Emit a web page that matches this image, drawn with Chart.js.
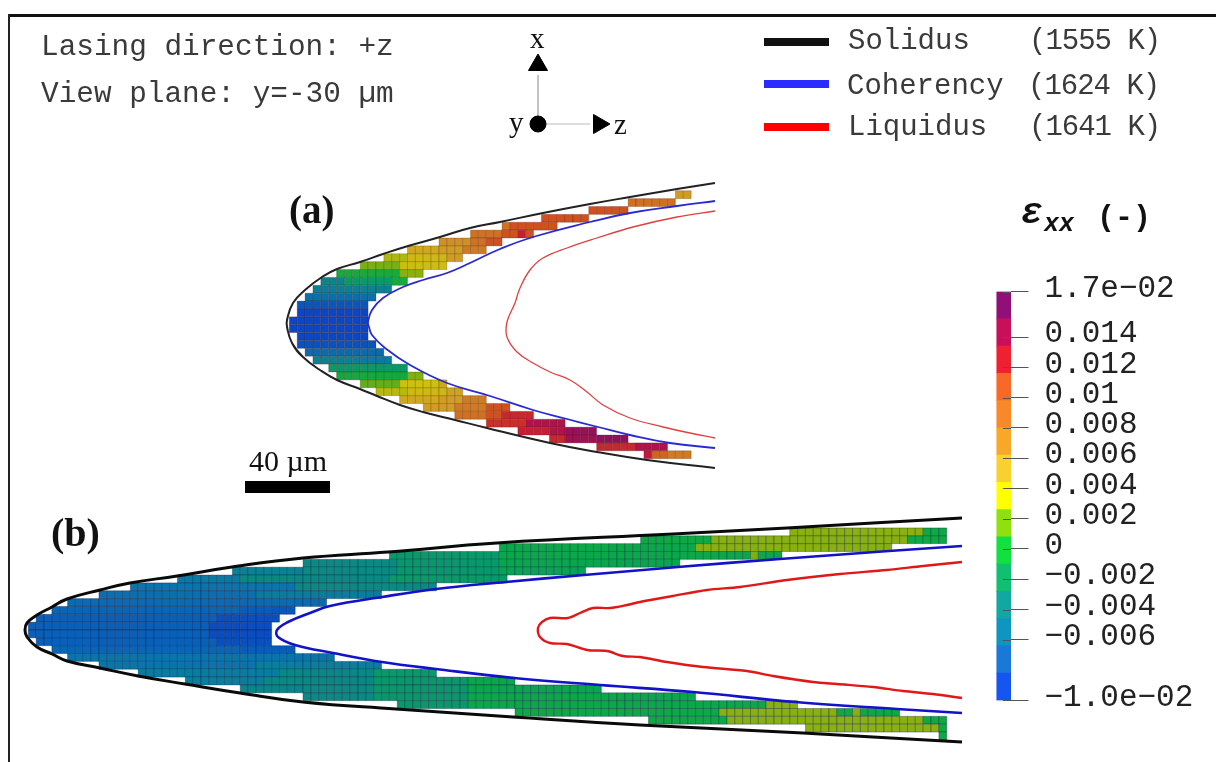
<!DOCTYPE html>
<html>
<head>
<meta charset="utf-8">
<title>Strain in the melt pool</title>
<script src="https://cdn.jsdelivr.net/npm/chart.js@4"></script>
<style>
    body { margin: 0; background: #fff; width: 1216px; height: 762px; overflow: hidden; position: relative; }
    canvas { position: absolute; }
    .t { position: absolute; white-space: pre; font: 29px/34px "Liberation Mono", monospace; color: #3a3a3a; }
    .s { position: absolute; white-space: pre; font: 29px/34px "Liberation Serif", serif; color: #111; }
    .box { position: absolute; }
</style>
</head>
<body>
<canvas id="poolChart" width="1216" height="762" style="left:0;top:0"></canvas>
<canvas id="barChart" width="226" height="480" style="left:990px;top:261px"></canvas>

<div class="box" style="left:8px;top:14px;width:1208px;height:3px;background:#111"></div>
<div class="box" style="left:8px;top:14px;width:2px;height:748px;background:#222"></div>

<div class="t" style="left:41px;top:31px;font-size:29.4px">Lasing direction: +z</div>
<div class="t" style="left:41px;top:78px;font-size:29.4px">View plane: y=-30 µm</div>

<div class="s" style="left:530px;top:21px">x</div>
<div class="s" style="left:509px;top:105px">y</div>
<div class="s" style="left:614px;top:107px">z</div>

<div class="box" style="left:764px;top:38px;width:65px;height:8px;background:#111"></div>
<div class="box" style="left:764px;top:80px;width:65px;height:8px;background:#2b2bff"></div>
<div class="box" style="left:764px;top:123px;width:65px;height:8px;background:#f00"></div>
<div class="t" style="left:848px;top:25px">Solidus</div>
<div class="t" style="left:847px;top:70px">Coherency</div>
<div class="t" style="left:848px;top:111px">Liquidus</div>
<div class="t" style="left:1029px;top:25px;letter-spacing:-1px">(1555 K)</div>
<div class="t" style="left:1028px;top:70px;letter-spacing:-1px">(1624 K)</div>
<div class="t" style="left:1029px;top:111px;letter-spacing:-1px">(1641 K)</div>

<div class="s" style="left:289px;top:187px;font-size:39px;line-height:46px;font-weight:bold">(a)</div>
<div class="s" style="left:51px;top:510px;font-size:40px;line-height:46px;font-weight:bold">(b)</div>
<div class="s" style="left:249px;top:444px;font-size:30px">40 µm</div>
<div class="box" style="left:245px;top:481px;width:85px;height:12px;background:#000"></div>

<div class="t" style="left:1021px;top:197px;font-size:36px;font-weight:bold;font-style:italic;color:#111">ε</div>
<div class="t" style="left:1044px;top:208px;font-size:25px;font-weight:bold;font-style:italic;color:#111">xx</div>
<div class="t" style="left:1097px;top:201px;font-size:30px;font-weight:bold;color:#111">(-)</div>

<script>
    // colour bar
    const barEdges = [-0.01, -0.0082, -0.0064, -0.0046, -0.0028, -0.001, 0.0008, 0.0026, 0.0044, 0.0062, 0.008, 0.0098, 0.0116, 0.0134, 0.0152, 0.017];
    const barColors = ['#1555f0', '#1a78d8', '#1095c0', '#10a8a0', '#10c070', '#10e040', '#90e010', '#ffff00', '#f8d030', '#f8a828', '#f88828', '#f86828', '#f02030', '#c8105a', '#901078'];
    const tickValues = [-0.01, -0.006, -0.004, -0.002, 0, 0.002, 0.004, 0.006, 0.008, 0.01, 0.012, 0.014, 0.017];
    const tickLabels = ['\u22121.0e\u221202', '\u22120.006', '\u22120.004', '\u22120.002', '0', '0.002', '0.004', '0.006', '0.008', '0.01', '0.012', '0.014', '1.7e\u221202'];

    // colours of the cells, the same scale but duller than the bar
    const strainStops = [-0.009, -0.0065, -0.005, -0.0035, -0.002, -0.0008, 0.0005, 0.0017, 0.004, 0.0055, 0.0075, 0.009, 0.0105, 0.012, 0.0135, 0.015, 0.0165];
    const strainColors = [[10, 64, 200], [10, 96, 184], [10, 120, 168], [10, 138, 128], [10, 154, 104], [10, 168, 72], [40, 176, 40], [136, 176, 16], [204, 192, 16], [208, 168, 32], [208, 144, 40], [208, 112, 32], [208, 80, 32], [200, 48, 40], [192, 24, 64], [168, 16, 80], [144, 16, 96]];

    // cells: row, first column, then pairs of cell count and strain
    const rowsA = [
        [-17, 49, 2, 0.0065],
        [-16, 43, 6, 0.009],
        [-15, 38, 5, 0.0105],
        [-14, 32, 6, 0.0105],
        [-13, 27, 1, 0.009, 6, 0.0105],
        [-12, 23, 4, 0.009, 2, 0.0105, 1, 0.013, 1, 0.0105],
        [-11, 19, 4, 0.0075, 2, 0.009, 2, 0.0105],
        [-10, 15, 4, 0.0055, 3, 0.0065, 3, 0.0085],
        [-9, 12, 3, 0.003, 5, 0.0045, 2, 0.0065],
        [-8, 9, 5, 0.0015, 6, 0.0042],
        [-7, 6, 8, -0.0003, 3, 0.0018],
        [-6, 4, 3, -0.004, 6, -0.002, 2, -0.0003],
        [-5, 3, 3, -0.0045, 7, -0.0042],
        [-4, 2, 9, -0.0055],
        [-3, 1, 9, -0.0072],
        [-2, 1, 9, -0.0085],
        [-1, 0, 10, -0.0085],
        [0, 0, 10, -0.0085],
        [1, 1, 9, -0.0085],
        [2, 1, 10, -0.0075],
        [3, 2, 10, -0.0058],
        [4, 3, 6, -0.0042, 4, -0.0048],
        [5, 5, 10, -0.002],
        [6, 6, 9, -0.0005, 2, 0.0016],
        [7, 9, 5, 0.0012, 5, 0.004, 1, 0.0055],
        [8, 11, 4, 0.0032, 5, 0.0045, 2, 0.006],
        [9, 14, 5, 0.0055, 3, 0.0065, 3, 0.0085],
        [10, 17, 4, 0.0065, 4, 0.0085, 3, 0.0105],
        [11, 21, 4, 0.009, 2, 0.0105, 4, 0.0125],
        [12, 25, 5, 0.012, 5, 0.0145],
        [13, 29, 4, 0.013, 2, 0.0145, 4, 0.016],
        [14, 33, 2, 0.0125, 4, 0.0155, 4, 0.0165],
        [15, 39, 5, 0.0125, 4, 0.0145],
        [16, 45, 1, 0.0135, 2, 0.0095, 3, 0.0085]
    ];
    const rowsB = [
        [-13, 97, 17, 0.0018, 3, -0.0006],
        [-12, 78, 9, -0.0006, 25, 0.0017, 5, -0.0006],
        [-11, 60, 25, -0.0008, 25, 0.0017],
        [-10, 46, 14, -0.002, 32, -0.0008, 1, 0.0016, 3, -0.0008],
        [-9, 35, 12, -0.0035, 13, -0.0022, 23, -0.001],
        [-8, 26, 9, -0.0042, 12, -0.0035, 13, -0.0022, 11, -0.0012],
        [-7, 19, 8, -0.0048, 19, -0.0036, 15, -0.002],
        [-6, 13, 21, -0.0052, 18, -0.0035],
        [-5, 9, 20, -0.0055, 16, -0.0046],
        [-4, 5, 33, -0.0058],
        [-3, 3, 24, -0.0062, 4, -0.0068, 3, -0.0072],
        [-2, 1, 23, -0.0065, 8, -0.0078],
        [-1, 0, 23, -0.0065, 8, -0.008],
        [0, 0, 23, -0.0065, 8, -0.008],
        [1, 1, 23, -0.0065, 7, -0.0078],
        [2, 3, 24, -0.0062, 7, -0.0068],
        [3, 5, 34, -0.0052],
        [4, 9, 20, -0.0052, 16, -0.0045],
        [5, 14, 18, -0.0047, 12, -0.0037, 8, -0.002],
        [6, 20, 10, -0.0045, 14, -0.0036, 12, -0.0022, 6, -0.001],
        [7, 27, 8, -0.0038, 9, -0.0035, 12, -0.0022, 17, -0.001],
        [8, 35, 9, -0.0035, 12, -0.0022, 29, -0.0008],
        [9, 47, 9, -0.0022, 38, -0.0008, 4, 0.0017],
        [10, 62, 26, -0.0007, 15, 0.0017, 2, -0.0006, 1, 0.0017, 5, -0.0006],
        [11, 79, 10, -0.0006, 25, 0.0017, 3, -0.0006],
        [12, 99, 17, 0.0018, 1, -0.0006],
        [13, 116, 1, -0.0006]
    ];

    // isotherms of panel (a)
    const solidusA = [[715, 183], [677, 189], [630, 197], [590, 204], [543, 213], [500, 222], [470, 228], [440, 237], [408, 246], [383, 254], [360, 262], [337, 269], [322, 277], [305, 290], [293, 303], [287, 320], [287, 327], [292, 343], [303, 357], [320, 370], [337, 380], [360, 389], [377, 396], [400, 405], [423, 412], [455, 420], [487, 428], [550, 443], [597, 452], [647, 460], [715, 468]];
    const coherencyA = [[715, 201], [677, 206], [630, 213], [590, 222], [533, 237], [500, 249], [470, 263], [447, 273], [423, 280], [403, 287], [383, 298], [372, 310], [368, 322], [369, 327], [372, 335], [385, 348], [410, 365], [447, 383], [490, 396], [533, 410], [567, 419], [598, 427], [630, 435], [670, 443], [715, 448]];
    const liquidusA = [[715, 211], [677, 217], [633, 227], [597, 238], [567, 248], [543, 258], [530, 270], [520, 288], [515, 303], [507, 322], [507, 337], [517, 352], [533, 363], [550, 372], [570, 380], [587, 392], [603, 405], [630, 418], [663, 427], [690, 433], [715, 438]];

    // isotherms of panel (b)
    const solidusB = [[962, 518], [873, 523], [787, 528], [673, 534], [497, 543], [388, 552], [303, 558], [232, 567], [177, 576], [130, 583], [100, 590], [67, 599], [52, 607], [37, 615], [27, 623], [25, 630], [27, 637], [37, 647], [52, 654], [67, 661], [100, 668], [138, 676], [185, 684], [240, 693], [303, 702], [396, 709], [513, 717], [640, 725], [803, 733], [873, 737], [962, 742]];
    const coherencyB = [[962, 546], [889, 551], [780, 559], [678, 567], [584, 575], [506, 582], [436, 589], [382, 597], [330, 606], [310, 613], [288, 622], [277, 630], [278, 637], [295, 645], [333, 653], [382, 662], [436, 669], [514, 678], [600, 685], [693, 692], [795, 702], [897, 709], [962, 713]];
    const liquidusB = [[962, 562], [923, 566], [887, 570], [840, 574], [787, 580], [740, 587], [707, 590], [673, 596], [640, 602], [627, 605], [610, 608], [593, 608], [580, 613], [568, 618], [550, 618], [542, 622], [538, 628], [540, 637], [550, 643], [567, 644], [587, 650], [607, 651], [623, 656], [640, 657], [667, 662], [703, 667], [747, 671], [773, 676], [813, 682], [837, 684], [873, 687], [903, 691], [933, 694], [962, 698]];

    // axis triad
    const triadUp = [[538, 75], [538, 124]];
    const triadRight = [[538, 124], [590, 124]];
    const triadHeads = [[538, 65], [599, 124]];
    const triadDot = [[538, 124]];

    function strainColor(v) {
        let i = 0;
        while (i < strainStops.length - 2 && v > strainStops[i + 1]) i++;
        const f = Math.min(1, Math.max(0, (v - strainStops[i]) / (strainStops[i + 1] - strainStops[i])));
        const c = strainColors[i].map((a, k) => Math.round(a + (strainColors[i + 1][k] - a) * f));
        return `rgb(${c[0]},${c[1]},${c[2]})`;
    }

    // expand the rows into one point per cell
    function cellPoints(rows, left, middle, size) {
        const points = [];
        rows.forEach(row => {
            let col = row[1];
            for (let i = 2; i < row.length; i += 2) {
                for (let n = 0; n < row[i]; n++) {
                    points.push({ x: left + (col + 0.5) * size, y: middle + (row[0] + 0.5) * size, v: row[i + 1] });
                    col++;
                }
            }
        });
        return points;
    }

    function cellDataset(points, size, edge) {
        return {
            data: points,
            pointStyle: 'rect',
            pointRadius: size / Math.SQRT2,
            pointHoverRadius: size / Math.SQRT2,
            pointBackgroundColor: points.map(p => strainColor(p.v)),
            pointBorderColor: edge,
            pointBorderWidth: 0.7,
            order: 5
        };
    }

    function curve(coords, color, width, tension) {
        return {
            data: coords.map(c => ({ x: c[0], y: c[1] })),
            showLine: true,
            borderColor: color,
            borderWidth: width,
            tension: tension,
            pointRadius: 0,
            order: 1
        };
    }

    function heads(coords, style, radius, rotation) {
        return {
            data: coords.map(c => ({ x: c[0], y: c[1] })),
            pointStyle: style,
            pointRadius: radius,
            pointRotation: rotation,
            pointBackgroundColor: '#000',
            pointBorderColor: '#000',
            order: 0
        };
    }

    new Chart(document.getElementById('poolChart'), {
        type: 'scatter',
        data: {
            datasets: [
                cellDataset(cellPoints(rowsA, 289.3, 324.7, 7.88), 7.88, 'rgba(70,30,20,0.35)'),
                cellDataset(cellPoints(rowsB, 28.3, 630, 7.85), 7.85, 'rgba(0,20,60,0.45)'),
                curve(solidusA, '#222', 2, 0.45),
                curve(coherencyA, '#2a2ad0', 1.8, 0.45),
                curve(liquidusA, '#e04040', 1.3, 0.4),
                curve(solidusB, '#0a0a0a', 3, 0.45),
                curve(coherencyB, '#1212c8', 2.6, 0.4),
                curve(liquidusB, '#e01818', 2.4, 0.3),
                curve(triadUp, '#bbb', 1, 0),
                curve(triadRight, '#bbb', 1, 0),
                heads([triadHeads[0]], 'triangle', 11, 0),
                heads([triadHeads[1]], 'triangle', 11, 90),
                heads(triadDot, 'circle', 8, 0)
            ]
        },
        options: {
            responsive: false,
            animation: false,
            events: [],
            layout: { padding: 0, autoPadding: false },
            plugins: { legend: { display: false }, tooltip: { enabled: false } },
            scales: {
                x: { type: 'linear', min: 0, max: 1216, display: false },
                y: { type: 'linear', min: 0, max: 762, reverse: true, display: false }
            }
        }
    });

    // the ticks also reach halfway into the bar
    const innerTicks = {
        id: 'innerTicks',
        afterDatasetsDraw(chart) {
            const ctx = chart.ctx;
            const area = chart.chartArea;
            ctx.save();
            ctx.strokeStyle = '#555';
            ctx.lineWidth = 1;
            tickValues.forEach(v => {
                const y = Math.round(chart.scales.y.getPixelForValue(v)) + 0.5;
                ctx.beginPath();
                ctx.moveTo(area.left + 6.5, y);
                ctx.lineTo(area.right, y);
                ctx.stroke();
            });
            ctx.restore();
        }
    };

    new Chart(document.getElementById('barChart'), {
        type: 'bar',
        data: {
            labels: ['strain'],
            datasets: barColors.map((color, i) => ({
                data: [[barEdges[i], barEdges[i + 1]]],
                backgroundColor: color,
                barPercentage: 1,
                categoryPercentage: 1
            }))
        },
        options: {
            responsive: false,
            animation: false,
            events: [],
            layout: { padding: { left: 6.4, top: 30.6, bottom: 40.6, right: 0 }, autoPadding: false },
            plugins: { legend: { display: false }, tooltip: { enabled: false } },
            scales: {
                x: { stacked: true, display: false },
                y: {
                    position: 'right',
                    min: -0.01,
                    max: 0.017,
                    border: { display: false },
                    grid: { drawOnChartArea: false, tickLength: 17.5, color: '#555' },
                    afterBuildTicks: scale => { scale.ticks = tickValues.map(v => ({ value: v })); },
                    afterFit: scale => { scale.width = 205; scale.paddingTop = 0; scale.paddingBottom = 0; },
                    ticks: {
                        autoSkip: false,
                        padding: 16,
                        labelOffset: -3,
                        color: '#222',
                        font: { family: '"Liberation Mono", monospace', size: 31 },
                        callback: (value, index) => tickLabels[index]
                    }
                }
            }
        },
        plugins: [innerTicks]
    });
</script>
</body>
</html>
